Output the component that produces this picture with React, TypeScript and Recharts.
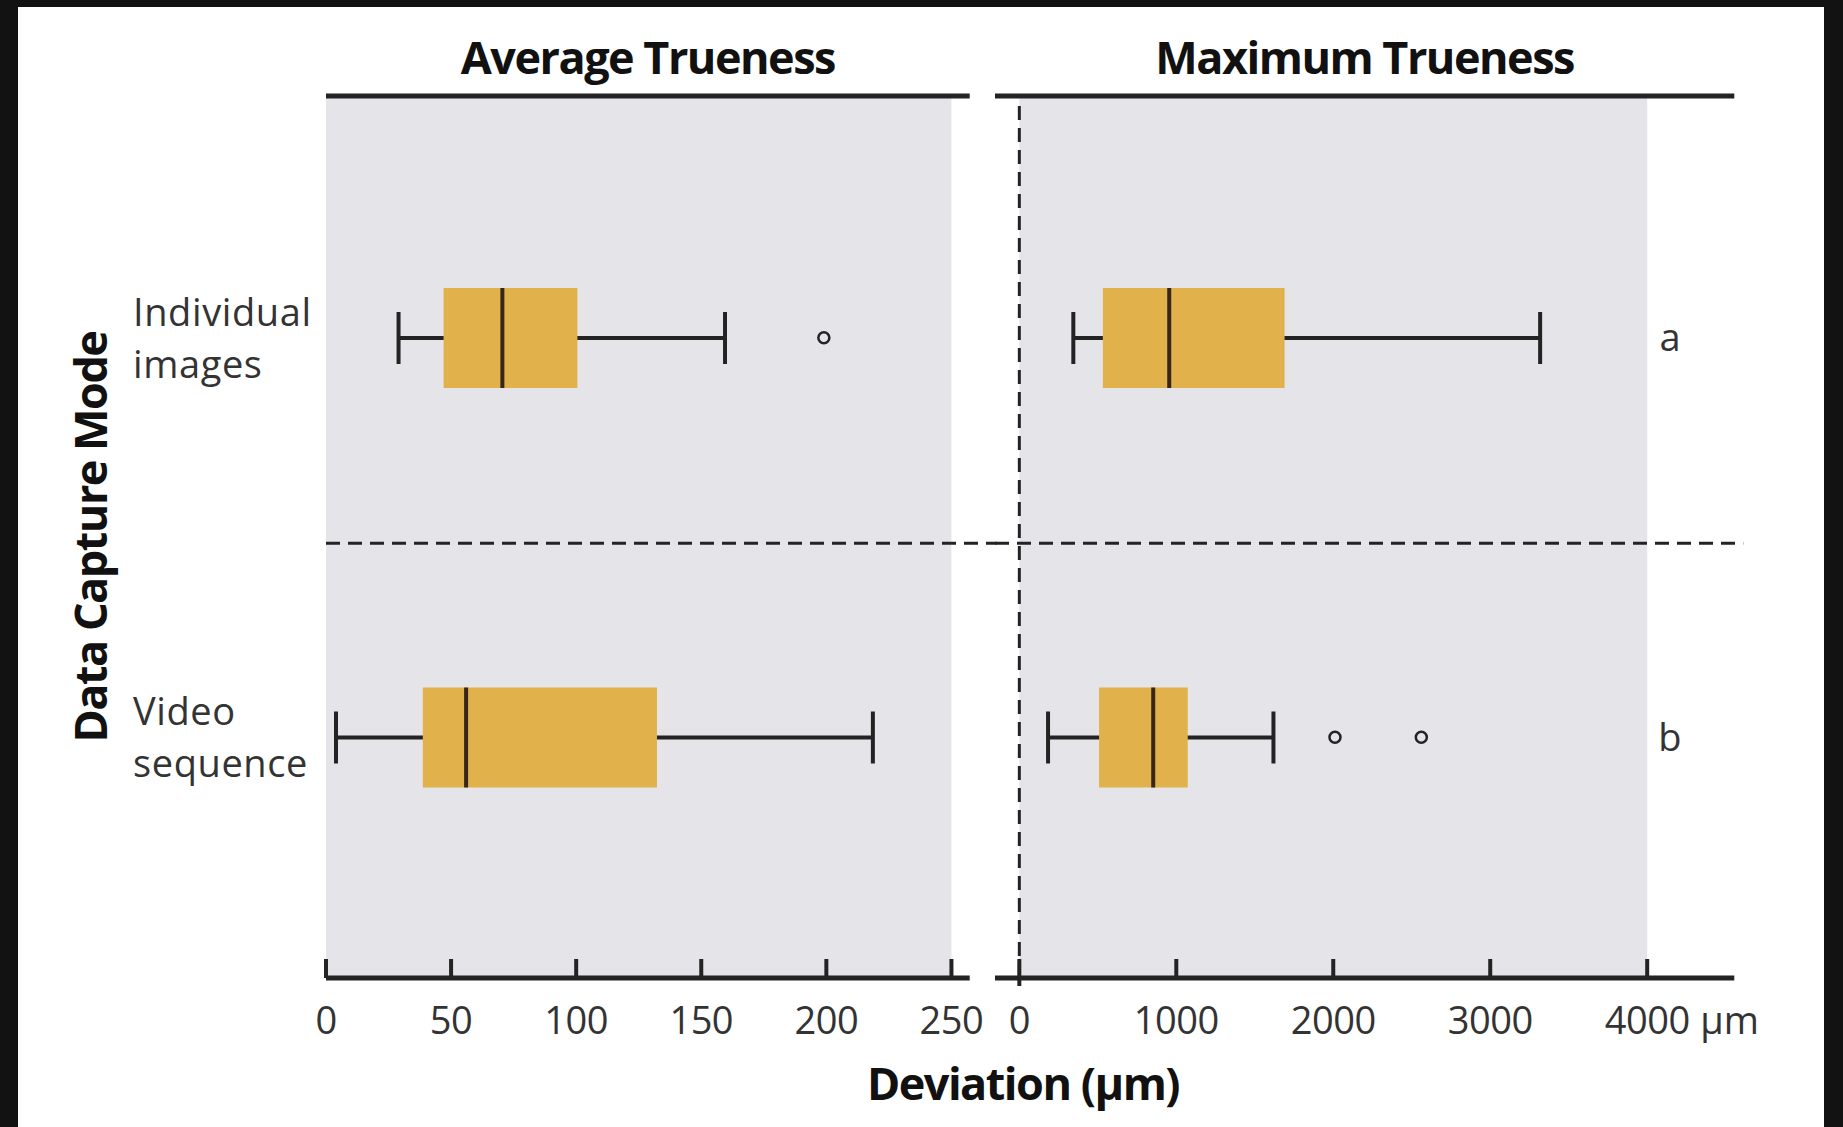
import React from 'react';
import {
  ComposedChart,
  Bar,
  XAxis,
  YAxis,
  ReferenceArea,
  ReferenceLine,
  ReferenceDot,
  Label,
} from 'recharts';

// ---------- data ----------
const categories = ['Individual images', 'Video sequence'];

// Average trueness (µm)
const avgMin = [29, 4];
const avgQ1 = [47, 38.7];
const avgMedian = [70.5, 56];
const avgQ3 = [100.5, 132.3];
const avgMax = [159.5, 218.6];
const avgOutliers: number[][] = [[199], []];

// Maximum trueness (µm)
const maxMin = [344, 183];
const maxQ1 = [532, 508];
const maxMedian = [955, 853];
const maxQ3 = [1690, 1073];
const maxMax = [3318, 1619];
const maxOutliers: number[][] = [[], [2011, 2561]];

const groupLetters = ['a', 'b'];

const avgTicks = [0, 50, 100, 150, 200, 250];
const maxTicks = [0, 1000, 2000, 3000, 4000];

// ---------- style constants ----------
const AVG_DOMAIN: [number, number] = [0, 257.3];
const MAX_DOMAIN: [number, number] = [-155, 4555];
const AVG_SHADE_END = 250;
const MAX_SHADE_END = 4000;
const LETTER_X = 4145;
// helper axis spanning the panel height (0 = top edge, 1 = bottom edge)
const ROW_DOMAIN: [number, number] = [0, 1];
const DIVIDER = 0.507;

const FONT = "'Open Sans', 'DejaVu Sans', sans-serif";
const GRAY = '#e5e5e9';
const BOX = '#e1b24b';
const INK = '#232323';
const TEXT = '#333333';

const buildRows = (
  mins: number[],
  q1s: number[],
  meds: number[],
  q3s: number[],
  maxs: number[]
) =>
  categories.map((c, i) => ({
    category: c,
    range: [mins[i], maxs[i]],
    min: mins[i],
    q1: q1s[i],
    median: meds[i],
    q3: q3s[i],
    max: maxs[i],
  }));

const avgRows = buildRows(avgMin, avgQ1, avgMedian, avgQ3, avgMax);
const maxRows = buildRows(maxMin, maxQ1, maxMedian, maxQ3, maxMax);

// ---------- shapes ----------
const BoxShape = (props: any) => {
  const { x, y, width, height } = props;
  const p = props.payload ?? props;
  const { min, q1, median, q3, max } = p;
  const px = (v: number) => x + ((v - min) / (max - min)) * width;
  const cy = y + height / 2;
  const cap = height * 0.26;
  return (
    <g>
      <line x1={x} x2={x + width} y1={cy} y2={cy} stroke={INK} strokeWidth={4} />
      <line x1={x} x2={x} y1={cy - cap} y2={cy + cap} stroke={INK} strokeWidth={4} />
      <line x1={x + width} x2={x + width} y1={cy - cap} y2={cy + cap} stroke={INK} strokeWidth={4} />
      <rect x={px(q1)} y={y} width={px(q3) - px(q1)} height={height} fill={BOX} />
      <line x1={px(median)} x2={px(median)} y1={y} y2={y + height} stroke="#37261a" strokeWidth={4} />
    </g>
  );
};

const makeAxisTick = (withUnit: boolean, extendZero: boolean) => (props: any) => {
  const { x, y, payload } = props;
  const v = payload.value;
  const isLast = v === maxTicks[maxTicks.length - 1];
  return (
    <g>
      <line
        x1={x}
        x2={x}
        y1={y - 19}
        y2={extendZero && v === 0 ? y + 8 : y}
        stroke={INK}
        strokeWidth={4}
      />
      <text
        x={x}
        y={y + 56}
        textAnchor="middle"
        fontFamily={FONT}
        fontSize={38}
        letterSpacing={-0.5}
        fill={TEXT}
      >
        {v}
      </text>
      {withUnit && isLast && (
        <text
          x={x + 53}
          y={y + 56}
          textAnchor="start"
          fontFamily={FONT}
          fontSize={38}
          fill={TEXT}
        >
          µm
        </text>
      )}
    </g>
  );
};

const CategoryTick = (props: any) => {
  const { x, y, payload } = props;
  const lines = String(payload.value).split(' ');
  const tx = x - 193;
  return (
    <g>
      <text x={tx} y={y - 12} fontFamily={FONT} fontSize={38} letterSpacing={0.6} fill={TEXT} textAnchor="start">
        {lines[0]}
      </text>
      <text x={tx} y={y + 40} fontFamily={FONT} fontSize={38} letterSpacing={0.6} fill={TEXT} textAnchor="start">
        {lines[1]}
      </text>
    </g>
  );
};

const titleStyle = {
  fontFamily: FONT,
  fontSize: 45,
  fontWeight: 700,
  letterSpacing: -1.5,
  fill: '#111111',
};

const AvgTick = makeAxisTick(false, false);
const MaxTick = makeAxisTick(true, true);

export default function App() {
  return (
    <div
      style={{
        position: 'absolute',
        left: 0,
        top: 0,
        width: 1843,
        height: 1127,
        background: '#121212',
        overflow: 'hidden',
      }}
    >
      <div
        style={{
          position: 'absolute',
          left: 18,
          top: 7,
          width: 1806,
          height: 1120,
          background: '#ffffff',
        }}
      />

      {/* Left panel: Average Trueness */}
      <div style={{ position: 'absolute', left: 0, top: 0 }}>
        <ComposedChart
          layout="vertical"
          width={1000}
          height={1127}
          data={avgRows}
          margin={{ top: 95, right: 30.3, bottom: 89, left: 126 }}
        >
          <XAxis
            xAxisId="top"
            orientation="top"
            type="number"
            domain={AVG_DOMAIN}
            allowDataOverflow
            height={1}
            tick={false}
            tickLine={false}
            axisLine={{ stroke: INK, strokeWidth: 5 }}
          >
            <Label value="Average Trueness" position="top" offset={21} {...titleStyle} style={titleStyle} />
          </XAxis>
          <XAxis
            type="number"
            domain={AVG_DOMAIN}
            allowDataOverflow
            ticks={avgTicks}
            interval={0}
            height={60}
            tickSize={0}
            tickMargin={0}
            tickLine={false}
            tick={<AvgTick />}
            axisLine={{ stroke: INK, strokeWidth: 5 }}
          />
          <YAxis
            type="category"
            dataKey="category"
            width={200}
            padding={{ top: 42, bottom: 41 }}
            interval={0}
            tickSize={0}
            tickMargin={0}
            tickLine={false}
            axisLine={false}
            tick={<CategoryTick />}
          />
          <YAxis yAxisId="row" type="number" domain={ROW_DOMAIN} allowDataOverflow hide width={0} />
          <ReferenceArea
            yAxisId="row"
            x1={0}
            x2={AVG_SHADE_END}
            y1={ROW_DOMAIN[0]}
            y2={ROW_DOMAIN[1]}
            fill={GRAY}
            fillOpacity={1}
            stroke="none"
            ifOverflow="visible"
          />
          <ReferenceLine
            yAxisId="row"
            segment={[
              { x: 0, y: DIVIDER },
              { x: 268, y: DIVIDER },
            ]}
            ifOverflow="visible"
            stroke={INK}
            strokeWidth={3}
            strokeDasharray="14 8"
          />
          <Bar dataKey="range" barSize={100} shape={<BoxShape />} isAnimationActive={false} />
          {avgOutliers.flatMap((vals, i) =>
            vals.map((v) => (
              <ReferenceDot
                key={`ao-${i}-${v}`}
                x={v}
                y={categories[i]}
                r={5.5}
                fill={GRAY}
                stroke={INK}
                strokeWidth={2.5}
              />
            ))
          )}
        </ComposedChart>
      </div>

      {/* Right panel: Maximum Trueness */}
      <div style={{ position: 'absolute', left: 980, top: 0 }}>
        <ComposedChart
          layout="vertical"
          width={863}
          height={1127}
          data={maxRows}
          margin={{ top: 95, right: 108.7, bottom: 89, left: 15 }}
        >
          <XAxis
            xAxisId="top"
            orientation="top"
            type="number"
            domain={MAX_DOMAIN}
            allowDataOverflow
            height={1}
            tick={false}
            tickLine={false}
            axisLine={{ stroke: INK, strokeWidth: 5 }}
          >
            <Label value="Maximum Trueness" position="top" offset={21} {...titleStyle} style={titleStyle} />
          </XAxis>
          <XAxis
            type="number"
            domain={MAX_DOMAIN}
            allowDataOverflow
            ticks={maxTicks}
            interval={0}
            height={60}
            tickSize={0}
            tickMargin={0}
            tickLine={false}
            tick={<MaxTick />}
            axisLine={{ stroke: INK, strokeWidth: 5 }}
          />
          <YAxis
            type="category"
            dataKey="category"
            hide
            width={0}
            padding={{ top: 42, bottom: 41 }}
          />
          <YAxis yAxisId="row" type="number" domain={ROW_DOMAIN} allowDataOverflow hide width={0} />
          <ReferenceArea
            yAxisId="row"
            x1={0}
            x2={MAX_SHADE_END}
            y1={ROW_DOMAIN[0]}
            y2={ROW_DOMAIN[1]}
            fill={GRAY}
            fillOpacity={1}
            stroke="none"
            ifOverflow="visible"
          />
          <ReferenceLine x={0} stroke={INK} strokeWidth={3} strokeDasharray="14 8" />
          <ReferenceLine
            yAxisId="row"
            segment={[
              { x: -155, y: DIVIDER },
              { x: 4612, y: DIVIDER },
            ]}
            ifOverflow="visible"
            stroke={INK}
            strokeWidth={3}
            strokeDasharray="14 8"
          />
          <Bar dataKey="range" barSize={100} shape={<BoxShape />} isAnimationActive={false} />
          {maxOutliers.flatMap((vals, i) =>
            vals.map((v) => (
              <ReferenceDot
                key={`mo-${i}-${v}`}
                x={v}
                y={categories[i]}
                r={5.5}
                fill={GRAY}
                stroke={INK}
                strokeWidth={2.5}
              />
            ))
          )}
          {groupLetters.map((letter, i) => (
            <ReferenceDot
              key={`lt-${letter}`}
              x={LETTER_X}
              y={categories[i]}
              r={1}
              fill="none"
              stroke="none"
              label={{
                value: letter,
                position: 'center',
                fontSize: 38,
                fill: TEXT,
                fontFamily: FONT,
              }}
            />
          ))}
        </ComposedChart>
      </div>

      {/* Shared axis titles */}
      <svg
        style={{ position: 'absolute', left: 0, top: 0, pointerEvents: 'none' }}
        width={1843}
        height={1127}
      >
        <text
          transform="translate(107,537) rotate(-90)"
          textAnchor="middle"
          fontFamily={FONT}
          fontSize={45}
          fontWeight={700}
          letterSpacing={-1.5}
          fill="#111111"
        >
          Data Capture Mode
        </text>
        <text
          x={1023}
          y={1100}
          textAnchor="middle"
          fontFamily={FONT}
          fontSize={45}
          fontWeight={700}
          letterSpacing={-1.5}
          fill="#111111"
        >
          Deviation (µm)
        </text>
      </svg>
    </div>
  );
}
